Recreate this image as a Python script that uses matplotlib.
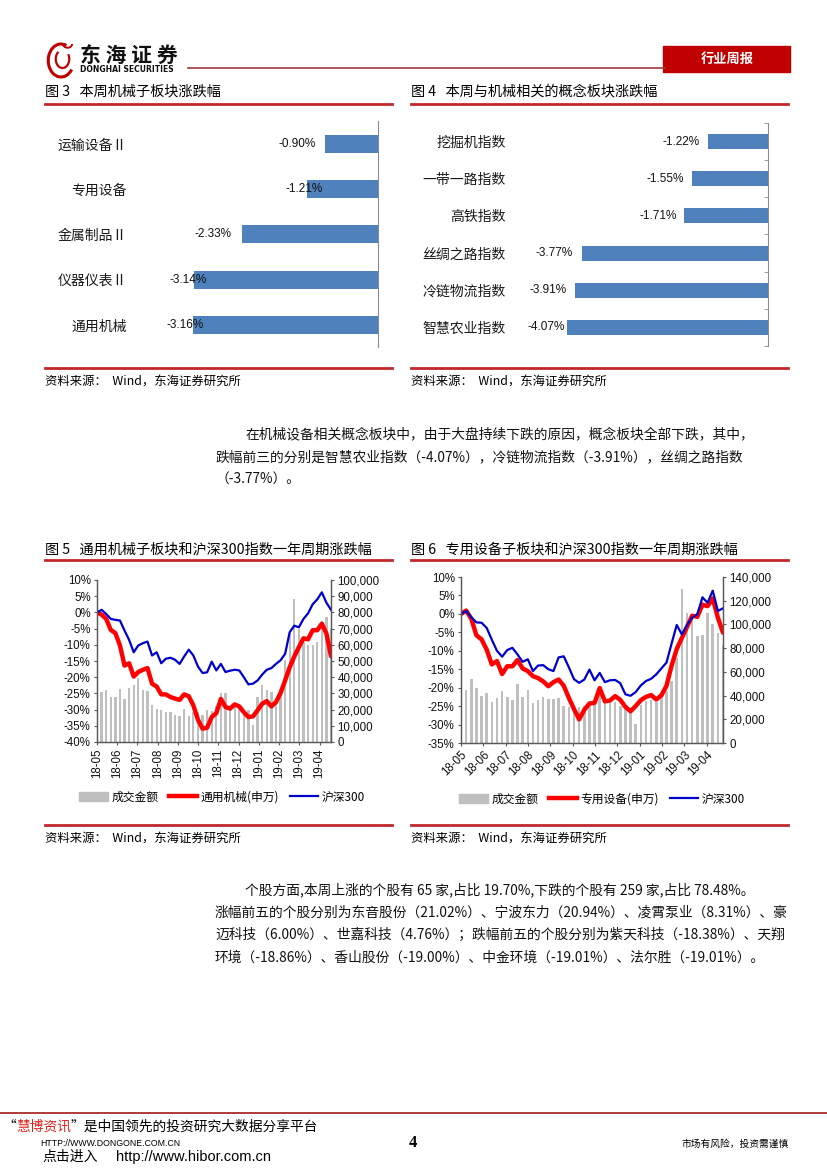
import numpy as np
import matplotlib
matplotlib.use('Agg')
import matplotlib.pyplot as plt
from matplotlib.lines import Line2D
from matplotlib.patches import Rectangle, Arc, Patch
from matplotlib.ticker import FuncFormatter

plt.rcParams['font.family'] = ['Noto Sans CJK SC', 'DejaVu Sans']
plt.rcParams['axes.unicode_minus'] = False

W, H = 827, 1170

# ---- data ----
sub_names = ['运输设备Ⅱ', '专用设备', '金属制品Ⅱ', '仪器仪表Ⅱ', '通用机械']
sub_chg = [-0.90, -1.21, -2.33, -3.14, -3.16]

idx_names = ['挖掘机指数', '一带一路指数', '高铁指数', '丝绸之路指数', '冷链物流指数', '智慧农业指数']
idx_chg = [-1.22, -1.55, -1.71, -3.77, -3.91, -4.07]

months = ['18-05', '18-06', '18-07', '18-08', '18-09', '18-10',
          '18-11', '18-12', '19-01', '19-02', '19-03', '19-04']

# fig 5: weekly, %
general_sw = [0.0, -0.7, -2.0, -5.4, -6.4, -10.2, -16.4, -15.7, -19.8, -18.4,
              -17.7, -17.2, -22.0, -22.9, -25.3, -25.3, -26.1, -26.6, -27.0, -25.3,
              -25.9, -28.7, -33.1, -35.9, -35.6, -32.3, -31.1, -26.7, -29.2, -29.7,
              -28.4, -29.0, -30.8, -32.3, -32.1, -30.2, -28.2, -27.4, -29.0, -27.7,
              -24.9, -21.0, -16.9, -13.6, -10.7, -8.0, -8.3, -5.5, -5.5, -3.5,
              -6.5, -13.5]
hs300_5 = [0.0, 0.8, -0.5, -2.0, -2.3, -2.5, -5.6, -8.5, -12.3, -10.2,
           -9.5, -9.0, -13.3, -12.3, -15.7, -14.3, -14.0, -14.6, -15.9, -13.6,
           -11.5, -13.3, -16.7, -18.7, -18.5, -15.2, -17.9, -15.9, -18.4, -18.0,
           -17.7, -17.9, -20.0, -22.2, -22.0, -21.0, -19.2, -17.7, -17.2, -15.9,
           -14.8, -12.8, -6.1, -4.1, -4.6, -2.0, -0.3, 2.5, 4.0, 6.2,
           3.0, 0.8]
turnover_5 = [30800, 32400, 27700, 27700, 32900, 26300, 33500, 35300, 39600, 32200,
              31400, 22600, 20500, 19900, 18500, 18500, 16800, 16000, 20500, 16000,
              18500, 18500, 16400, 19500, 19000, 22000, 30500, 30500, 20000, 22000,
              21000, 18000, 20000, 10300, 27700, 35300, 32400, 30800, 25000, 33000,
              50700, 66700, 88300, 70000, 61600, 60000, 60000, 61600, 75000, 77000,
              70000]

# fig 6: weekly, %
special_sw = [0.0, 0.9, -1.3, -5.8, -6.9, -9.7, -13.7, -12.8, -16.3, -14.2,
              -14.2, -12.5, -14.8, -15.5, -16.9, -17.4, -18.3, -19.6, -18.5, -17.8,
              -19.5, -22.8, -25.8, -28.6, -26.0, -24.3, -24.1, -20.1, -23.7, -23.5,
              -22.3, -23.3, -25.2, -26.4, -25.0, -23.4, -22.5, -22.0, -23.2, -22.1,
              -19.5, -14.0, -9.5, -6.5, -3.5, -0.5, -0.8, 2.5, 2.1, 4.2,
              -1.0, -5.1]
hs300_6 = [0.0, 0.8, -0.9, -2.3, -2.4, -3.8, -7.0, -10.0, -11.6, -9.8,
           -9.2, -11.0, -13.0, -12.3, -15.5, -14.0, -13.9, -15.0, -15.5, -11.8,
           -11.5, -14.5, -17.7, -18.7, -17.8, -15.1, -18.0, -16.0, -18.5, -18.0,
           -17.9, -18.8, -21.8, -22.2, -21.2, -19.4, -18.2, -17.6, -16.4, -14.8,
           -13.2, -8.0, -3.0, -5.6, -3.0, -1.0, -0.1, 4.5, 3.0, 6.3,
           0.8, 1.5]
turnover_6 = [45000, 54000, 46000, 40000, 42500, 34600, 38000, 43700, 38900, 36600,
              49900, 38900, 45100, 33800, 36600, 38900, 37500, 37500, 38000, 31000,
              30000, 29000, 30000, 31000, 33000, 36000, 47600, 39000, 33800, 35000,
              31000, 29600, 26800, 16000, 32400, 35200, 36600, 35000, 38000, 44200,
              52000, 71800, 130000, 110000, 105600, 90000, 91000, 110000, 100600, 93000,
              83000]

RED_LINE = '#C0282E'
BAR_BLUE = '#4F81BD'


def px(x, y):
    return x / W, 1 - y / H


def axes_px(fig, l, t, r, b):
    return fig.add_axes([l / W, 1 - b / H, (r - l) / W, (b - t) / H])


def hline(fig, x0, x1, y, color=RED_LINE, lw=2.0):
    fig.add_artist(Line2D([x0 / W, x1 / W], [1 - y / H, 1 - y / H],
                          color=color, lw=lw, transform=fig.transFigure))


def ftext(fig, x, y, s, **kw):
    kw.setdefault('va', 'center')
    fig.text(x / W, 1 - y / H, s, **kw)


fig = plt.figure(figsize=(8.27, 11.70), dpi=100)

# ---- header ----
logo = axes_px(fig, 46, 38, 76, 80)
logo.set_xlim(0, 1)
logo.set_ylim(0, 1.4)
logo.set_aspect('equal')
logo.axis('off')
logo.add_patch(Arc((0.5, 0.65), 0.85, 1.1, theta1=70, theta2=320, color='#C00000', lw=2.2))
logo.add_patch(Arc((0.55, 0.7), 0.45, 0.6, theta1=120, theta2=400, color='#C00000', lw=1.6))
logo.add_patch(Arc((0.72, 1.2), 0.3, 0.25, theta1=180, theta2=360, color='#C00000', lw=1.4))

ftext(fig, 80, 55, '东 海 证 券', fontsize=15, fontweight='bold', color='#111111')
ftext(fig, 80, 69, 'DONGHAI SECURITIES', fontsize=5.5, fontweight='bold',
      family='DejaVu Sans', color='#111111')
hline(fig, 188, 665, 68, color='#9E3B3B', lw=1.2)
fig.add_artist(Rectangle(px(663, 72), 127 / W, 26 / H, color='#C00000',
                         transform=fig.transFigure))
ftext(fig, 727, 59, '行业周报', fontsize=9.5, fontweight='bold', color='white', ha='center')

# ---- fig 3 / fig 4 titles ----
ftext(fig, 45, 91, '图 3   本周机械子板块涨跌幅', fontsize=10.2)
ftext(fig, 411, 91, '图 4   本周与机械相关的概念板块涨跌幅', fontsize=10.2)
hline(fig, 45, 392, 104)
hline(fig, 411, 788, 104)

# ---- fig 3 bars ----
gap3 = [0.49, 0.06, 0.49, 0.11, 0.14]
ax3 = axes_px(fig, 131, 121, 378, 347)
ax3.barh(range(len(sub_chg)), sub_chg, height=0.4, color=BAR_BLUE)
ax3.set_xlim(-4.22, 0)
ax3.set_ylim(4.49, -0.51)
ax3.set_xticks([])
ax3.set_yticks(range(len(sub_names)))
ax3.set_yticklabels(sub_names, fontsize=10, color='#1a1a1a')
ax3.tick_params(axis='y', length=0, pad=3)
for s in ['top', 'left', 'bottom']:
    ax3.spines[s].set_visible(False)
ax3.spines['right'].set_color('#8C8C8C')
for i, v in enumerate(sub_chg):
    ax3.text(v - gap3[i], i, f'{v:.2f}%', ha='center', va='center', fontsize=8.5,
             family='Liberation Sans', color='#111111')

# ---- fig 4 bars ----
gap4 = [0.16, 0.16, 0.14, 0.18, 0.18, 0.04]
ax4 = axes_px(fig, 510, 123, 768, 346)
ax4.barh(range(len(idx_chg)), idx_chg, height=0.4, color=BAR_BLUE)
ax4.set_xlim(-5.23, 0)
ax4.set_ylim(5.5, -0.5)
ax4.set_xticks([])
ax4.set_yticks(range(len(idx_names)))
ax4.set_yticklabels(idx_names, fontsize=10, color='#1a1a1a')
ax4.set_yticks(np.arange(-0.5, 6, 1), minor=True)
ax4.tick_params(axis='y', which='major', length=0, pad=3)
ax4.tick_params(axis='y', which='minor', left=False, right=True, length=3,
                direction='in', color='#8C8C8C')
for s in ['top', 'left', 'bottom']:
    ax4.spines[s].set_visible(False)
ax4.spines['right'].set_color('#8C8C8C')
for i, v in enumerate(idx_chg):
    ax4.text(v - gap4[i], i, f'{v:.2f}%', ha='right', va='center', fontsize=8.5,
             family='Liberation Sans', color='#111111')

hline(fig, 45, 392, 368)
hline(fig, 411, 788, 368)
ftext(fig, 45, 381, '资料来源：  Wind，东海证券研究所', fontsize=8.9)
ftext(fig, 411, 381, '资料来源：  Wind，东海证券研究所', fontsize=8.9)

# ---- paragraph 1 ----
para1 = ['在机械设备相关概念板块中，由于大盘持续下跌的原因，概念板块全部下跌，其中，',
         '跌幅前三的分别是智慧农业指数（-4.07%），冷链物流指数（-3.91%），丝绸之路指数',
         '（-3.77%）。']
for k, s in enumerate(para1):
    ftext(fig, 245 if k == 0 else 215, 434 + 23 * k, s, fontsize=9.9, color='#111111')

# ---- fig 5 / fig 6 ----
ftext(fig, 45, 549, '图 5   通用机械子板块和沪深300指数一年周期涨跌幅', fontsize=10.2)
ftext(fig, 411, 549, '图 6   专用设备子板块和沪深300指数一年周期涨跌幅', fontsize=10.2)
hline(fig, 45, 392, 560)
hline(fig, 411, 788, 560)


def line_chart(rect, red, blue, vol, red_name, ylo, vmax, vstep, month_step,
               rot, leg_x, leg_y):
    ax = axes_px(fig, *rect)
    ax2 = ax.twinx()
    x = np.arange(len(red))
    xb = np.arange(1, len(vol) + 1)
    ax2.bar(xb, vol, width=0.5, color='#BFBFBF')
    ax.plot(x, red, color='#FF0000', lw=3.2, solid_joinstyle='round', solid_capstyle='round')
    ax.plot(x, blue, color='#0000CC', lw=1.6, solid_joinstyle='round')
    ax.set_zorder(ax2.get_zorder() + 1)
    ax.patch.set_visible(False)
    ax.set_xlim(0, len(red) - 1)
    ax.set_ylim(ylo, 10)
    ax.set_yticks(np.arange(ylo, 10.1, 5))
    ax.yaxis.set_major_formatter(FuncFormatter(lambda v, p: f'{v:.0f}%'))
    ax2.set_ylim(0, vmax)
    ax2.set_yticks(np.arange(0, vmax + 1, vstep))
    ax2.yaxis.set_major_formatter(FuncFormatter(lambda v, p: f'{v:,.0f}'))
    ticks = np.arange(len(months)) * month_step
    ax.set_xticks(ticks)
    if rot == 90:
        ax.set_xticklabels(months, rotation=90, ha='center', va='top')
    else:
        ax.set_xticklabels(months, rotation=45, ha='right', rotation_mode='anchor')
    for a in (ax, ax2):
        a.spines['top'].set_visible(False)
        for s in ['left', 'right', 'bottom']:
            a.spines[s].set_color('#595959')
            a.spines[s].set_linewidth(0.9)
        a.tick_params(length=2.5, width=0.8, color='#595959', direction='out',
                      labelsize=8.3, pad=2)
        for t in a.get_xticklabels() + a.get_yticklabels():
            t.set_family('Liberation Sans')
            t.set_color('#111111')
    handles = [Patch(color='#BFBFBF'),
               Line2D([], [], color='#FF0000', lw=3.2),
               Line2D([], [], color='#0000CC', lw=1.6)]
    fig.legend(handles, ['成交金额', red_name, '沪深300'], ncol=3, frameon=False,
               loc='center', bbox_to_anchor=px(leg_x, leg_y), fontsize=8.5,
               handlelength=2.4, handletextpad=0.3, columnspacing=0.9)
    return ax


line_chart((97, 580, 331, 742), general_sw, hs300_5, turnover_5, '通用机械(申万)',
           -40, 100000, 10000, 4.41, 90, 222, 797)
line_chart((461, 577, 723, 743), special_sw, hs300_6, turnover_6, '专用设备(申万)',
           -35, 140000, 20000, 4.35, 45, 602, 799)

hline(fig, 45, 392, 825)
hline(fig, 411, 788, 825)
ftext(fig, 45, 838, '资料来源：  Wind，东海证券研究所', fontsize=8.9)
ftext(fig, 411, 838, '资料来源：  Wind，东海证券研究所', fontsize=8.9)

# ---- paragraph 2 ----
para2 = ['个股方面,本周上涨的个股有 65 家,占比 19.70%,下跌的个股有 259 家,占比 78.48%。',
         '涨幅前五的个股分别为东音股份（21.02%）、宁波东力（20.94%）、凌霄泵业（8.31%）、豪',
         '迈科技（6.00%）、世嘉科技（4.76%）；跌幅前五的个股分别为紫天科技（-18.38%）、天翔',
         '环境（-18.86%）、香山股份（-19.00%）、中金环境（-19.01%）、法尔胜（-19.01%）。']
for k, s in enumerate(para2):
    ftext(fig, 245 if k == 0 else 215, 890 + 22.5 * k, s, fontsize=9.9, color='#111111')

# ---- footer ----
hline(fig, 0, 827, 1113, color='#B03A3A', lw=1.4)
em = 9.9 / 72 * 100
ftext(fig, 2, 1127, '“', fontsize=9.9)
ftext(fig, 2 + em, 1127, '慧博资讯', fontsize=9.9, color='#E0201B')
ftext(fig, 2 + 5 * em, 1127, '”是中国领先的投资研究大数据分享平台', fontsize=9.9)
ftext(fig, 40, 1143, 'HTTP://WWW.DONGONE.COM.CN', fontsize=6.3, family='Liberation Sans')
ftext(fig, 42, 1157, '点击进入', fontsize=10)
ftext(fig, 116, 1157, 'http://www.hibor.com.cn', fontsize=10.5, family='Liberation Sans')
ftext(fig, 413, 1143, '4', fontsize=12, fontweight='bold', family='Liberation Serif', ha='center')
ftext(fig, 681, 1144, '市场有风险，投资需谨慎', fontsize=7)

fig.savefig('out.png', dpi=100)
